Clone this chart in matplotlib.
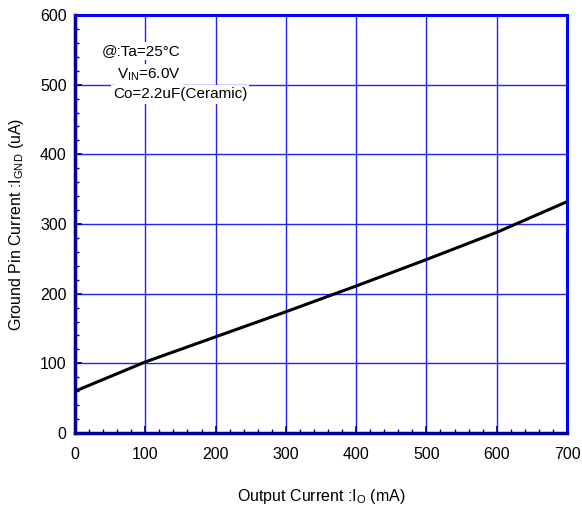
import numpy as np
import matplotlib.pyplot as plt
from matplotlib.ticker import MultipleLocator

plt.rcParams['font.family'] = ['Liberation Sans', 'DejaVu Sans']
plt.rcParams['mathtext.fontset'] = 'custom'
plt.rcParams['mathtext.rm'] = 'Liberation Sans'

# Data
output_current = [0, 50, 100, 150, 200, 300, 400, 500, 600, 650, 700]  # mA
ground_current = [60, 81, 102, 120, 138, 174, 211, 249, 288, 310, 332]  # uA

notes = ["@:Ta=25°C", "V$_{\\mathrm{IN}}$=6.0V", "Co=2.2uF(Ceramic)"]

fig = plt.figure(figsize=(5.82, 5.11), dpi=100)
ax = fig.add_axes([75 / 582, 1 - 433 / 511, 492 / 582, 418 / 511])

ax.plot(output_current, ground_current, color='black', lw=2.2, zorder=3)

ax.set_xlim(0, 700)
ax.set_ylim(0, 600)
ax.xaxis.set_major_locator(MultipleLocator(100))
ax.yaxis.set_major_locator(MultipleLocator(100))
ax.xaxis.set_minor_locator(MultipleLocator(20))
ax.yaxis.set_minor_locator(MultipleLocator(20))
ax.grid(True, which='major', color='#2020ff', lw=1.0)
ax.tick_params(which='both', direction='in', labelsize=11.5, colors='black')
ax.tick_params(which='major', length=5, color='#000080', width=1.2)
ax.tick_params(which='minor', length=3, color='#000080', width=1.0)
ax.tick_params(axis='x', pad=10)
ax.tick_params(axis='y', pad=6)

for side in ['top', 'right']:
    ax.spines[side].set_color('#0000ff')
    ax.spines[side].set_linewidth(2.2)
for side in ['left', 'bottom']:
    ax.spines[side].set_color('#0000a0')
    ax.spines[side].set_linewidth(2.5)

ax.set_xlabel("Output Current :I$_{\\mathrm{O}}$ (mA)", fontsize=11.5, labelpad=18)
ax.set_ylabel("Ground Pin Current :I$_{\\mathrm{GND}}$ (uA)", fontsize=11.5, labelpad=10)

note_pos = [(38, 548), (60, 514), (54, 486)]
for (x, y), s in zip(note_pos, notes):
    ax.text(x, y, s, fontsize=11, va='center', ha='left', zorder=4,
            bbox=dict(facecolor='white', edgecolor='none', pad=1.5))

fig.savefig('out.png', dpi=100)
